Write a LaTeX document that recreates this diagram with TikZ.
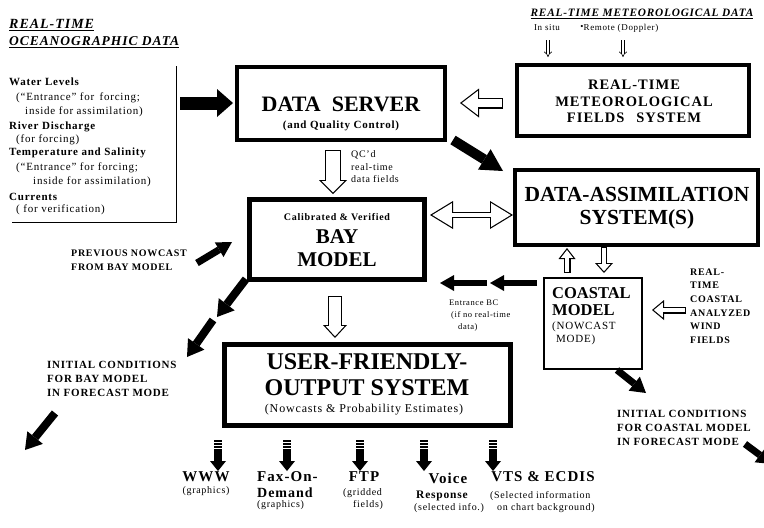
\documentclass[tikz,border=0pt]{standalone}
\usepackage{fontspec}
\setmainfont{Liberation Serif}[LetterSpace=7]
\newfontfamily\titlefont{Liberation Serif}
\usetikzlibrary{arrows.meta}
\newcommand{\myfs}[2]{\fontsize{#1}{#2}\selectfont}
\tikzset{
  txt/.style={inner sep=0pt},
  box/.style={draw, line width=#1, inner sep=0pt},
  blk/.style n args={3}{line width=#1pt, -{Triangle[length=#3pt,width=#2pt,line width=0pt]}},
  hol/.style n args={7}{line width=#1pt, -{Triangle[length=#3pt,width=#2pt,line width=0pt]},
     postaction={draw=white, line width=#4pt, shorten <=1.2pt, shorten >=#7pt, -{Triangle[length=#6pt,width=#5pt,line width=0pt]}}},
  hold/.style n args={7}{line width=#1pt, {Triangle[length=#3pt,width=#2pt,line width=0pt]}-{Triangle[length=#3pt,width=#2pt,line width=0pt]},
     postaction={draw=white, line width=#4pt, shorten <=#7pt, shorten >=#7pt, {Triangle[length=#6pt,width=#5pt,line width=0pt]}-{Triangle[length=#6pt,width=#5pt,line width=0pt]}}},
  dbl/.style={double, double distance=2.2pt, line width=0.6pt, -Implies},
  stripe/.style={line width=8pt, -{Triangle[length=10pt,width=16pt,line width=0pt]},
     dash pattern=on 1.6pt off 1.4pt on 1.6pt off 1.4pt on 1.6pt off 1.4pt on 40pt off 10pt},
  lst/.style={inner sep=0pt, anchor=west, font=\myfs{11}{13}},
  lstb/.style={inner sep=0pt, anchor=west, font=\myfs{11}{13}\bfseries},
}
\begin{document}
\begin{tikzpicture}[x=1pt,y=-1pt]
\useasboundingbox (0,0) rectangle (764,528);
\clip (0,0) rectangle (764,528);

% ---------- ocean data header and list
\node[txt, anchor=west, font=\myfs{14}{16}\bfseries\itshape] (oh1) at (9,25) {\underline{REAL-TIME}};
\node[txt, anchor=west, font=\myfs{13.5}{16}\bfseries\itshape] (oh2) at (9,42) {\underline{OCEANOGRAPHIC DATA}};
\node[lstb] (l1) at (9,82) {Water Levels};
\node[lst] (l2) at (16,98) {(“Entrance” for\, forcing;};
\node[lst] (l3) at (25,112) {inside for assimilation)};
\node[lstb] (l4) at (9,127) {River Discharge};
\node[lst] (l5) at (16,140) {(for forcing)};
\node[lstb] (l6) at (9,153) {Temperature and Salinity};
\node[lst] (l7) at (16,168) {(“Entrance” for forcing;};
\node[lst] (l8) at (33,182) {inside for assimilation)};
\node[lstb] (l9) at (9,197) {Currents};
\node[lst] (l10) at (16,210) {( for verification)};
\draw[line width=0.7pt] (176,66) -- (176,222) -- (12,222);

% ---------- boxes
\node[box=4pt, minimum width=208pt, minimum height=73pt] (ds) at (341,103.5) {};
\node[box=4pt, minimum width=232pt, minimum height=71pt] (met) at (633,100.5) {};
\node[box=4pt, minimum width=243pt, minimum height=75pt] (das) at (636.5,207.5) {};
\node[box=4.5pt, minimum width=175.5pt, minimum height=80.5pt] (bay) at (337,239.5) {};
\draw[line width=1pt] ([shift={(4.5,4.5)}]bay.north west) rectangle ([shift={(-4.5,-4.5)}]bay.south east);
\node[box=5pt, minimum width=286pt, minimum height=81pt] (ufo) at (367.5,385) {};
\node[box=2pt, minimum width=98pt, minimum height=91pt] (coast) at (593,323.5) {};

% ---------- box texts
\node[txt, font=\titlefont\bfseries\myfs{22}{24}] (dst) at (341,104) {DATA\hspace{0.25em} SERVER};
\node[txt, font=\bfseries\myfs{11}{13}] (dss) at (341,126) {(and Quality Control)};
\node[txt, align=center, font=\bfseries\myfs{14.5}{16.5}] (mett) at (634,101.5) {REAL-TIME\\METEOROLOGICAL\\FIELDS\hspace{0.5em} SYSTEM};
\node[txt, align=center, font=\titlefont\bfseries\myfs{21.5}{23}] (dast) at (637,208.5) {DATA-ASSIMILATION\\SYSTEM(S)};
\node[txt, font=\bfseries\myfs{10}{12}] (bayc) at (337,217) {Calibrated \& Verified};
\node[txt, align=center, font=\titlefont\bfseries\myfs{21}{23}] (bayt) at (337,248.5) {BAY\\MODEL};
\node[txt, align=center, font=\titlefont\bfseries\myfs{24}{26}] (ufot) at (367,375) {USER-FRIENDLY-\\OUTPUT SYSTEM};
\node[txt, font=\myfs{12}{14}] (ufos) at (364,410) {(Nowcasts \& Probability Estimates)};
\node[txt, anchor=west, font=\titlefont\bfseries\myfs{16.5}{18}] (ct1) at (552,293) {COASTAL};
\node[txt, anchor=west, font=\titlefont\bfseries\myfs{16.5}{18}] (ct2) at (552,310) {MODEL};
\node[txt, anchor=west, font=\myfs{11}{13}] (ct3) at (552,327) {(NOWCAST};
\node[txt, anchor=west, font=\myfs{11}{13}] (ct4) at (556,340) {MODE)};

% ---------- meteorological header
\node[txt, font=\bfseries\itshape\myfs{11.3}{13}] (mh) at (642,14) {\underline{REAL-TIME METEOROLOGICAL DATA}};
\node[txt, font=\myfs{9}{11}] (insitu) at (547,28) {In situ};
\node[txt, font=\myfs{9}{11}] (bul) at (582,27) {\textbullet};
\node[txt, font=\myfs{9}{11}] (remote) at (621,28) {Remote (Doppler)};
\coordinate (i1) at (548,40); \coordinate (i2) at (548,57);
\coordinate (r1) at (623,40); \coordinate (r2) at (623,57);
\draw[dbl] (i1) -- (i2);
\draw[dbl] (r1) -- (r2);

% ---------- labels
\node[txt, anchor=west, align=left, font=\myfs{10}{12.5}] (qcl) at (351,167) {QC’d\\real-time\\data fields};
\node[txt, anchor=west, align=left, font=\myfs{8.5}{12}] (ent) at (449,316) {Entrance BC\\\hspace*{2pt}(if no real-time\\\hspace*{9pt}data)};
\node[txt, anchor=west, align=left, font=\bfseries\myfs{10}{13.6}] (wind) at (690,306) {REAL-\\TIME\\COASTAL\\ANALYZED\\WIND\\FIELDS};
\node[txt, anchor=west, align=left, font=\bfseries\myfs{10}{14}] (prev) at (71,260) {PREVIOUS NOWCAST\\FROM BAY MODEL};
\node[txt, anchor=west, align=left, font=\bfseries\myfs{11}{14}] (initb) at (47,379) {INITIAL CONDITIONS\\FOR BAY MODEL\\IN FORECAST MODE};
\node[txt, anchor=west, align=left, font=\bfseries\myfs{11}{14}] (initc) at (617,428) {INITIAL CONDITIONS\\FOR COASTAL MODEL\\IN FORECAST MODE};

% ---------- bottom output labels
\node[txt, font=\bfseries\myfs{15}{17}] (www) at (206,477) {WWW};
\node[txt, font=\myfs{10}{12}] (wwwg) at (206,491) {(graphics)};
\node[txt, anchor=west, font=\bfseries\myfs{15}{17}] (fax) at (257,477) {Fax-On-};
\node[txt, anchor=west, font=\bfseries\myfs{14}{16}] (dem) at (257,493) {Demand};
\node[txt, anchor=west, font=\myfs{10}{12}] (demg) at (257,505) {(graphics)};
\node[txt, font=\bfseries\myfs{15}{17}] (ftp) at (364,477) {FTP};
\node[txt, anchor=west, font=\myfs{10}{12}] (ftpg) at (343,493) {(gridded};
\node[txt, anchor=west, font=\myfs{10}{12}] (ftpf) at (353,505) {fields)};
\node[txt, font=\bfseries\myfs{15}{17}] (voi) at (448,478) {Voice};
\node[txt, anchor=west, font=\bfseries\myfs{11.5}{13}] (resp) at (416,496) {Response};
\node[txt, anchor=west, font=\myfs{10}{12}] (sel) at (414,508) {(selected info.)};
\node[txt, font=\bfseries\myfs{15}{17}] (vts) at (543,477) {VTS \& ECDIS};
\node[txt, anchor=west, font=\myfs{10}{12}] (vts1) at (490,496) {(Selected information};
\node[txt, anchor=west, font=\myfs{10}{12}] (vts2) at (497,508) {on chart background)};

% ---------- connector coordinates
\coordinate (la) at (180,103);   \coordinate (lb) at (233,103);
\coordinate (da) at (453,140);   \coordinate (db) at (503,171);
\coordinate (qa) at (333,150);   \coordinate (qb) at (333,194);
\coordinate (ma) at (503,103);   \coordinate (mb) at (460,103);
\coordinate (ba) at (430,215);   \coordinate (bb) at (513,215);
\coordinate (ua) at (567,273);   \coordinate (ub) at (567,248);
\coordinate (va) at (604,247);   \coordinate (vb) at (604,273);
\coordinate (wa) at (686,310);   \coordinate (wb) at (652,310);
\coordinate (ea) at (537,283);   \coordinate (eb) at (490,283);
\coordinate (ec) at (487,283);   \coordinate (ed) at (440,283);
\coordinate (pa) at (197,263);   \coordinate (pb) at (232,242);
\coordinate (ia) at (246,279);   \coordinate (ib) at (217,317);
\coordinate (ic) at (213,320);   \coordinate (id) at (187,357);
\coordinate (ka) at (55,413);    \coordinate (kb) at (25,450);
\coordinate (oa) at (335,296);   \coordinate (ob) at (335,338);
\coordinate (ca) at (617,370);   \coordinate (cb) at (646,393);
\coordinate (xa) at (745,444);   \coordinate (xb) at (772,464);

% ---------- black arrows
\draw[blk={13}{28}{16}] (la) -- (lb);
\draw[blk={10}{24}{22}] (da) -- (db);
\draw[blk={6}{16}{14}] (ea) -- (eb);
\draw[blk={6}{16}{14}] (ec) -- (ed);
\draw[blk={7}{17}{15}] (pa) -- (pb);
\draw[blk={8}{20}{16}] (ia) -- (ib);
\draw[blk={8}{20}{16}] (ic) -- (id);
\draw[blk={8}{20}{16}] (ka) -- (kb);
\draw[blk={7}{18}{15}] (ca) -- (cb);
\draw[blk={7}{18}{15}] (xa) -- (xb);

% ---------- hollow arrows
\draw[hol={11}{29}{19}{8.6}{24.15}{15.82}{1.98}] (ma) -- (mb);
\draw[hol={16}{28}{14}{13.6}{22.2}{11.1}{1.7}] (qa) -- (qb);
\draw[hol={14}{24}{13}{11.6}{18.5}{10.03}{1.77}] (oa) -- (ob);
\draw[hold={6}{28}{23}{3.6}{23.7}{19.49}{2.31}] (ba) -- (bb);
\draw[hol={7}{17}{11}{4.6}{12.1}{7.84}{1.96}] (ua) -- (ub);
\draw[hol={6}{18}{10}{3.6}{12.6}{7.01}{1.79}] (va) -- (vb);
\draw[hol={7}{20}{12}{4.6}{14.9}{8.93}{1.875}] (wa) -- (wb);

% ---------- striped output arrows
\foreach \n/\xx in {1/218,2/287,3/360,4/424,5/493}{
  \coordinate (s\n a) at (\xx,440);
  \coordinate (s\n b) at (\xx,471);
  \draw[stripe] (s\n a) -- (s\n b);
}
\end{tikzpicture}
\end{document}
